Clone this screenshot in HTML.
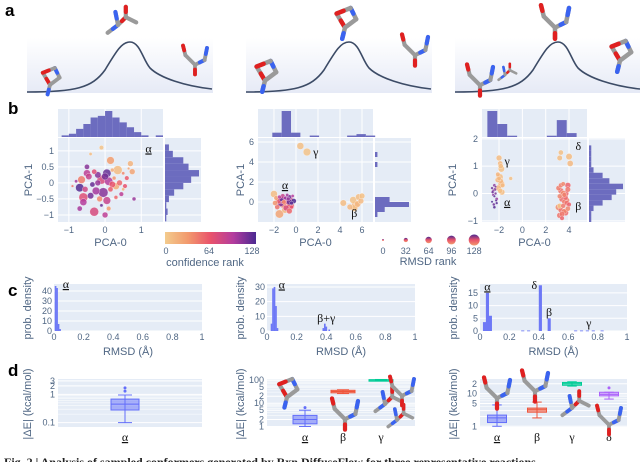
<!DOCTYPE html>
<html><head><meta charset="utf-8"><style>
html,body{margin:0;padding:0;background:#fff;}
svg{display:block;font-family:"Liberation Sans",sans-serif;}
.tk{font-size:9px;fill:#506784;}
.tt{font-size:11px;fill:#506784;}
.gk{font-family:"Liberation Serif",serif;font-size:12px;fill:#111;}
.pl{font-family:"Liberation Sans",sans-serif;font-weight:bold;font-size:17px;fill:#000;}
</style></head><body>
<svg id="fig" width="640" height="462" viewBox="0 0 640 462" xmlns="http://www.w3.org/2000/svg">
<defs>
<linearGradient id="bgA" x1="0" y1="0" x2="0" y2="1"><stop offset="0" stop-color="#ffffff"/><stop offset="1" stop-color="#e6eaf6"/></linearGradient>
<linearGradient id="cbar" x1="0" y1="0" x2="1" y2="0"><stop offset="0" stop-color="#f3cb8d"/><stop offset="0.25" stop-color="#f29a6d"/><stop offset="0.5" stop-color="#e9536b"/><stop offset="0.75" stop-color="#b33c9e"/><stop offset="1" stop-color="#4b2991"/></linearGradient>
<linearGradient id="leg" x1="0" y1="1" x2="0" y2="0"><stop offset="0" stop-color="#f29a6d"/><stop offset="0.5" stop-color="#e9536b"/><stop offset="1" stop-color="#4b2991"/></linearGradient>
</defs>
</svg>
<script>
// ---------- data ----------
const s1x=[-0.1,-0.4,0.15,0.7,-0.5,-0.3,-0.2,0.05,0.2,0.35,0.5,0.75,0.6,-0.8,-0.65,-0.45,-0.35,-0.1,0.0,0.1,0.25,0.4,0.55,-0.9,-0.7,-0.55,-0.25,-0.05,0.15,0.3,0.45,0.8,-0.6,-0.4,-0.15,0.05,0.3,-0.7,-0.6,-0.1,0.1,-0.3,0.5,-0.2,0.2,0.65,-0.5,0.0];
const s1y=[1.1,0.9,0.7,0.6,0.3,0.35,0.25,0.3,0.4,0.4,0.3,0.35,0.15,0.05,0.1,0.2,-0.05,0.1,0.2,0.05,0.15,0.0,-0.1,-0.1,-0.15,-0.2,-0.25,-0.3,-0.2,-0.1,-0.35,-0.5,-0.45,-0.4,-0.5,-0.55,-0.45,-0.8,-0.6,-0.7,-0.8,-0.9,-0.2,0.0,-0.05,0.45,0.5,-1.0];
const s1c=[5,10,30,15,90,70,110,120,20,10,40,25,60,100,45,85,120,75,115,95,35,55,65,50,125,80,100,110,60,20,90,105,70,115,40,85,55,100,95,120,30,75,15,105,65,25,110,90];
const s1s=[40,20,90,60,80,50,70,100,30,110,20,60,40,20,90,70,50,110,80,100,30,60,40,10,100,60,90,120,50,80,40,30,110,70,60,90,30,50,80,20,40,110,20,60,70,10,50,60];
const s2x=[-2.0,-1.8,-1.6,-1.5,-1.3,-1.2,-1.0,-0.9,-0.8,-0.6,-0.5,-0.4,-0.3,-1.7,-1.4,-1.1,-0.9,-0.7,-0.5,-0.2,-1.5,-1.2,-1.0,-0.8,-0.6,-0.4,-1.9,-1.3,-0.9,-0.6,0.4,1.0,4.3,4.9,5.2,5.4,5.7,5.9,5.3,5.6,6.0];
const s2y=[0.8,0.4,0.1,0.5,0.3,-0.2,0.4,0.1,-0.3,0.5,0.2,-0.1,0.6,-0.5,-0.1,0.0,-0.6,0.3,-0.4,0.1,-1.2,0.6,-0.8,0.7,0.0,-0.5,-0.1,0.2,0.4,-0.9,5.6,5.0,-0.1,-0.5,0.2,-0.3,0.5,0.1,-0.6,-0.2,0.6];
const s2c=[10,30,60,90,120,45,100,70,20,115,80,125,95,50,110,40,75,105,60,128,25,85,15,100,120,65,35,90,110,55,8,5,10,12,6,14,9,11,7,13,8];
const s2s=[80,40,60,30,50,90,20,70,100,40,60,30,20,50,80,40,60,30,90,50,100,40,70,20,60,30,50,80,40,60,80,90,70,60,80,90,70,60,80,70,60];
const s3x=[-2.6,-2.5,-2.4,-2.3,-2.2,-2.6,-2.45,-2.35,-2.25,-2.5,-2.4,-2.3,-2.55,-2.2,-2.4,-2.0,-1.9,-1.8,-2.1,-1.95,-1.85,-1.7,-2.05,-1.9,-1.8,-1.75,-2.0,-1.0,-1.85,-2.1,3.1,3.3,3.5,3.7,3.9,3.2,3.4,3.6,3.8,4.0,3.1,3.3,3.5,3.7,3.9,3.2,3.4,3.6,3.8,3.3,3.5,3.7,3.4,3.6,3.9,3.2,3.3,4.0,4.1,3.2];
const s3y=[0.2,0.1,-0.1,0.0,-0.2,-0.3,-0.4,0.15,-0.25,-0.05,-0.5,0.25,0.05,-0.35,0.3,1.3,1.1,0.9,0.7,0.6,0.45,0.3,0.2,0.1,0.35,0.05,0.55,0.55,1.0,0.5,0.2,0.1,0.35,0.0,0.15,-0.1,-0.2,-0.3,-0.25,-0.4,-0.5,-0.6,-0.45,-0.7,-0.55,-0.8,-0.9,-0.65,-0.35,0.3,0.0,-0.15,-0.75,-0.05,0.3,-0.45,1.5,1.35,1.1,1.3];
const s3c=[120,110,125,115,105,128,118,112,122,108,126,114,119,124,111,10,12,8,15,9,14,11,13,7,16,10,12,8,9,14,45,50,40,55,48,42,52,46,44,58,38,50,47,53,41,49,56,43,51,45,39,54,48,44,57,6,8,10,12,9];
const s3s=[10,15,8,12,20,6,14,18,9,11,16,7,13,10,17,60,50,70,40,80,55,45,65,50,75,60,40,30,50,55,50,60,40,70,55,45,65,50,60,40,70,55,45,65,50,60,40,55,50,45,60,50,55,45,60,50,50,70,65,55];
const h1top=[1,2,5,8,12,13,16,12,9,6,3,1,0,1];
const h1right=[1,2,1,3,7,14,20,26,18,14,6,3,0];
const h2top=[0,3,18,3,0,1,0,0,0,1,2,1];
const h2right=[0,1,4,14,6,0,0,0,0,0,0,1,0,1,0,0];
const h3top=[20,10,1,0,0,0,1,13,3,0];
const h3right=[1,1,2,6,10,12,15,9,6,2,1,1,1,1,0];
const c1edges=[0.005,0.015,0.025,0.035];
const c1widths=[0.01,0.01,0.01,0.01];
const c1vals=[45,43,7,2];
const c2edges=[0.025,0.035,0.045,0.055,0.065,0.375,0.385,0.395,0.415];
const c2widths=[0.01,0.01,0.01,0.01,0.01,0.01,0.01,0.01,0.01];
const c2vals=[5,29,30,17,2,2,5,3,1];
const c3edges=[0.02,0.04,0.06,0.28,0.32,0.40,0.46,0.64,0.68,0.72,0.76,0.82];
const c3widths=[0.02,0.02,0.02,0.02,0.02,0.02,0.02,0.02,0.02,0.02,0.02,0.02];
const c3vals=[3.5,15,6,0.2,0.2,18,5,0.2,0.2,0.2,0.2,0.2];
const d1cats=['α'];
const d1box=[[0.1,0.28,0.45,0.68,0.95]];
const d1out=[[1.3,1.7]];
const d2cats=['α','β','γ'];
const d2box=[[1.0,1.3,2.0,3.0,5.0],[26,28,32,36,38],[95,97,100,103,105]];
const d2out=[[6.5],[],[]];
const d3cats=['α','β','γ','δ'];
const d3box=[[1.0,1.3,1.8,2.2,4.5],[1.8,2.7,3.2,3.6,5.5],[17,18,20,22,23],[6.8,8.5,9.5,11,11]];
const d3out=[[4.8],[],[],[15]];

// ---------- helpers ----------
const NS='http://www.w3.org/2000/svg';
const svg=document.getElementById('fig');
function mk(tag,attrs,txt){const e=document.createElementNS(NS,tag);for(const k in attrs)e.setAttribute(k,attrs[k]);if(txt!==undefined)e.textContent=txt;svg.appendChild(e);return e;}
const stops=[[0,[243,203,141]],[0.25,[242,154,109]],[0.5,[233,83,107]],[0.75,[179,60,158]],[1,[75,41,145]]];
function cmap(v){const t=Math.max(0,Math.min(1,v/128));for(let i=1;i<stops.length;i++){if(t<=stops[i][0]){const a=stops[i-1],b=stops[i];const f=(t-a[0])/(b[0]-a[0]);const c=a[1].map((x,j)=>Math.round(x+(b[1][j]-x)*f));return 'rgb('+c.join(',')+')';}}return 'rgb(75,41,145)';}
function lin(d0,d1,r0,r1){return v=>r0+(v-d0)/(d1-d0)*(r1-r0);}
function bg(x0,y0,x1,y1,name){const r=mk('rect',{x:x0,y:y0,width:x1-x0,height:y1-y0,fill:'#e5ecf6'});return r;}
function gridV(sx,vals,y0,y1,name){vals.forEach(v=>{const g=mk('line',{x1:sx(v),x2:sx(v),y1:y0,y2:y1,stroke:'#fff','stroke-width':1});});}
function gridH(sy,vals,x0,x1,name,w){vals.forEach(v=>{const g=mk('line',{x1:x0,x2:x1,y1:sy(v),y2:sy(v),stroke:'#fff','stroke-width':w||1});});}
function tickX(sx,vals,labels,y,name){vals.forEach((v,i)=>{const t=mk('text',{x:sx(v),y:y,'text-anchor':'middle',class:'tk'},labels[i]);});}
function tickY(sy,vals,labels,x,name){vals.forEach((v,i)=>{const t=mk('text',{x:x,y:sy(v)+3,'text-anchor':'end',class:'tk'},labels[i]);});}
function title(x,y,txt,rot,name){const t=mk('text',{x:x,y:y,'text-anchor':'middle',class:'tt',transform:rot?'rotate(-90 '+x+' '+y+')':''},txt);return t;}
function greek(x,y,txt,u,name){const t=mk('text',{x:x,y:y,'text-anchor':'middle',class:'gk','text-decoration':u?'underline':'none'},txt);return t;}
function panelLabel(x,y,txt){const t=mk('text',{x:x,y:y,class:'pl'},txt);}
function mol(cx,cy,s,v,name){
  const g=document.createElementNS(NS,'g');g.setAttribute('transform','translate('+cx+' '+cy+') scale('+s+')');svg.appendChild(g);
  
  
  const shapes=[
   [[-8,6,0,0],[0,0,6,-6],[6,-6,14,-2],[0,0,-2,-10],[6,-6,6,-14]],
   [[-6,-6,0,4],[0,4,8,-2],[8,-2,4,-10],[4,-10,-6,-6],[0,4,-2,12]],
   [[-8,-4,0,4],[0,4,8,0],[0,4,0,12],[8,0,10,-10],[-8,-4,-10,-12]]
  ][v%3];
  const cols=['#3a63f0','#e02020','#f4f4f4','#3a63f0','#e02020'];
  shapes.forEach((b,i)=>{const a=document.createElementNS(NS,'line');a.setAttribute('x1',b[0]);a.setAttribute('y1',b[1]);a.setAttribute('x2',b[2]);a.setAttribute('y2',b[3]);a.setAttribute('stroke','#9a9a9a');a.setAttribute('stroke-width',3.2);a.setAttribute('stroke-linecap','round');g.appendChild(a);
   const h=document.createElementNS(NS,'line');const mx=(b[0]+b[2])/2,my=(b[1]+b[3])/2;h.setAttribute('x1',mx);h.setAttribute('y1',my);h.setAttribute('x2',b[2]);h.setAttribute('y2',b[3]);h.setAttribute('stroke',cols[(i+v)%5]);h.setAttribute('stroke-width',3.2);h.setAttribute('stroke-linecap','round');h.setAttribute('opacity',(i+v)%5===2?0.0:1);g.appendChild(h);});
}

// ---------- panel a ----------
panelLabel(5,16,'a');
[[27,0],[246,219],[455,428]].forEach((p,i)=>{
  const r=mk('rect',{x:p[0],y:38,width:186,height:55,fill:'url(#bgA)'});
  
  
  const o=p[1];
  const c=mk('path',{d:'M'+(27+o)+',92 C'+(75+o)+',92 '+(92+o)+',88 '+(105+o)+',70 C'+(117+o)+',50 '+(122+o)+',42 '+(130+o)+',42 C'+(140+o)+',42 '+(143+o)+',60 '+(150+o)+',68 C'+(160+o)+',78 '+(185+o)+',86 '+(212+o)+',89',fill:'none',stroke:'#3c4b66','stroke-width':1.6});
  
  
});
mol(50,80,1.2,1,'molecule-reactant-1');mol(118,25,1.3,0,'molecule-ts-1');mol(195,60,1.2,2,'molecule-product-1');
mol(265,75,1.4,1,'molecule-reactant-2');mol(345,22,1.4,1,'molecule-ts-2');mol(415,50,1.3,2,'molecule-product-2');
mol(480,80,1.3,2,'molecule-reactant-3');mol(505,75,0.8,0,'molecule-reactant-3b');mol(555,22,1.4,2,'molecule-ts-3');mol(620,55,1.4,1,'molecule-product-3');

// ---------- panel b ----------
panelLabel(8,114,'b');
function scatterPanel(cfg){
  const sx=lin(cfg.xd[0],cfg.xd[1],cfg.px[0],cfg.px[1]);
  const sy=lin(cfg.yd[0],cfg.yd[1],cfg.py[1],cfg.py[0]);
  bg(cfg.px[0],cfg.py[0],cfg.px[1],cfg.py[1],cfg.n+'-plot-area');
  gridV(sx,cfg.xt,cfg.py[0],cfg.py[1],cfg.n+'-xgrid');
  gridH(sy,cfg.yt,cfg.px[0],cfg.px[1],cfg.n+'-ygrid');
  tickX(sx,cfg.xt,cfg.xl,cfg.py[1]+11,cfg.n+'-x-tick');
  tickY(sy,cfg.yt,cfg.yl,cfg.px[0]-4,cfg.n+'-y-tick');
  bg(cfg.px[0],109,cfg.px[1],137,cfg.n+'-top-hist-area');
  gridV(sx,cfg.xt,109,137,cfg.n+'-top-hist-grid');
  const tm=Math.max(...cfg.ht);
  cfg.ht.forEach((h,i)=>{const x0=sx(cfg.htStart+i*cfg.htW),x1=sx(cfg.htStart+(i+1)*cfg.htW);const hh=h/tm*26;
    const b=mk('rect',{x:Math.min(x0,x1),y:137-hh,width:Math.abs(x1-x0),height:hh,fill:'#6c6cbf'});
    
    });
  const rx0=cfg.px[1]+2,rx1=cfg.px[1]+38;
  bg(rx0,cfg.py[0],rx1,cfg.py[1],cfg.n+'-right-hist-area');
  gridH(sy,cfg.yt,rx0,rx1,cfg.n+'-right-hist-grid');
  const rm=Math.max(...cfg.hr);
  cfg.hr.forEach((h,i)=>{const y0=sy(cfg.hrStart+i*cfg.hrW),y1=sy(cfg.hrStart+(i+1)*cfg.hrW);const ww=h/rm*34;
    const b=mk('rect',{x:rx0,y:Math.min(y0,y1),width:ww,height:Math.abs(y1-y0),fill:'#6c6cbf'});
    
    });
  const idx=cfg.x.map((_,i)=>i).sort((a,b)=>cfg.s[b]-cfg.s[a]);
  idx.forEach(i=>{const c=mk('circle',{cx:sx(cfg.x[i]),cy:sy(cfg.y[i]),r:1+cfg.s[i]/128*4,fill:cmap(cfg.c[i]),'fill-opacity':0.85,stroke:'#fff','stroke-width':0.3});
    
    });
  title((cfg.px[0]+cfg.px[1])/2,246,'PCA-0',false,cfg.n+'-x-title');
  title(cfg.ytx,180,'PCA-1',true,cfg.n+'-y-title');
  return [sx,sy];
}
let r1=scatterPanel({n:'scatter-1',px:[58,163],py:[138,222],xd:[-1.3,1.6],yd:[-1.22,1.4],xt:[-1,0,1],xl:['−1','0','1'],yt:[-1,-0.5,0,0.5,1],yl:['−1','−0.5','0','0.5','1'],x:s1x,y:s1y,c:s1c,s:s1s,ht:h1top,htStart:-1.2,htW:0.2,hr:h1right,hrStart:-1.2,hrW:0.2,ytx:32});
greek(r1[0](1.2),r1[1](0.95),'α',true,'label-alpha-b1');
let r2=scatterPanel({n:'scatter-2',px:[258,373],py:[138,222],xd:[-3.45,7.0],yd:[-2,6.4],xt:[-2,0,2,4,6],xl:['−2','0','2','4','6'],yt:[0,2,4,6],yl:['0','2','4','6'],x:s2x,y:s2y,c:s2c,s:s2s,ht:h2top,htStart:-3,htW:0.85,hr:h2right,hrStart:-2,hrW:0.5,ytx:244});
greek(r2[0](-1.0),r2[1](1.3),'α',true,'label-alpha-b2');greek(r2[0](1.8),r2[1](4.6),'γ',false,'label-gamma-b2');greek(r2[0](5.3),r2[1](-1.5),'β',false,'label-beta-b2');
let r3=scatterPanel({n:'scatter-3',px:[482,587],py:[138,222],xd:[-3.46,5.54],yd:[-1.04,2.03],xt:[-2,0,2,4],xl:['−2','0','2','4'],yt:[-1,0,1,2],yl:['−1','0','1','2'],x:s3x,y:s3y,c:s3c,s:s3s,ht:h3top,htStart:-3,htW:0.85,hr:h3right,hrStart:-1.04,hrW:0.2,ytx:456});
greek(r3[0](-1.3),r3[1](1.05),'γ',false,'label-gamma-b3');greek(r3[0](-1.3),r3[1](-0.45),'α',true,'label-alpha-b3');greek(r3[0](4.8),r3[1](1.6),'δ',false,'label-delta-b3');greek(r3[0](4.8),r3[1](-0.6),'β',false,'label-beta-b3');
(function(){const r=mk('rect',{x:165,y:232,width:91,height:12,fill:'url(#cbar)'});
const cbv=[0,64,128];cbv.forEach(v=>{const t=mk('text',{x:166+v/128*86,y:254,'text-anchor':'middle',class:'tk'},String(v));});
title(205,266,'confidence rank',false,'colorbar-title');
const lv=[0,32,64,96,128];lv.forEach((v,i)=>{const c=mk('circle',{cx:383+i*22.8,cy:240,r:1+v/128*4.5,fill:'url(#leg)'});
const t=mk('text',{x:383+i*22.8,y:254,'text-anchor':'middle',class:'tk'},String(v));});
title(428,265,'RMSD rank',false,'rmsd-legend-title');})();

// ---------- panel c ----------
panelLabel(8,296,'c');
function histPanel(n,x0,x1,ymax,yt,edges,widths,vals,tx){
  const sx=lin(0,1,x0,x1),sy=lin(0,ymax,331,284);
  bg(x0,284,x1,331,n+'-plot-area');
  gridH(sy,yt,x0,x1,n+'-ygrid');
  edges.forEach((e,i)=>{const b=mk('rect',{x:sx(e),y:sy(vals[i]),width:sx(e+widths[i])-sx(e)+0.2,height:Math.max(0.8,331-sy(vals[i])),fill:'#6d78f6'});});
  const xt=[0,0.2,0.4,0.6,0.8,1];
  tickX(sx,xt,['0','0.2','0.4','0.6','0.8','1'],340,n+'-x-tick');
  tickY(sy,yt,yt.map(String),x0-2,n+'-y-tick');
  title((x0+x1)/2,355,'RMSD (Å)',false,n+'-x-title');
  title(tx,308,'prob. density',true,n+'-y-title');
  return [sx,sy];
}
let c1=histPanel('rmsd-hist-1',54,202,47,[0,10,20,30,40],c1edges,c1widths,c1vals,31);
greek(c1[0](0.08),c1[1](43),'α',true,'label-alpha-c1');
let c2=histPanel('rmsd-hist-2',267,415,32,[0,10,20,30],c2edges,c2widths,c2vals,244);
greek(c2[0](0.1),c2[1](29),'α',true,'label-alpha-c2');greek(c2[0](0.4),c2[1](6),'β+γ',false,'label-betagamma-c2');
let c3=histPanel('rmsd-hist-3',480,627,18.5,[0,5,10,15],c3edges,c3widths,c3vals,457);
greek(c3[0](0.05),c3[1](16),'α',true,'label-alpha-c3');greek(c3[0](0.37),c3[1](16.5),'δ',false,'label-delta-c3');greek(c3[0](0.47),c3[1](6),'β',false,'label-beta-c3');greek(c3[0](0.74),c3[1](1.5),'γ',false,'label-gamma-c3');

// ---------- panel d ----------
panelLabel(8,376,'d');
const bcol=['#636efa','#ef553b','#00cc96','#ab63fa'];
function boxPanel(n,x0,x1,ymin,ymax,yt,yl,minor,cats,cx,bw,boxes,outs,tx){
  const L=v=>Math.log10(v);
  const sy=v=>427-(L(v)-L(ymin))/(L(ymax)-L(ymin))*48;
  bg(x0,379,x1,427,n+'-plot-area');
  gridH(sy,minor,x0,x1,n+'-minor-grid',0.5);
  gridH(sy,yt,x0,x1,n+'-ygrid',1);
  tickY(sy,yt,yl,x0-3,n+'-y-tick');
  cats.forEach((c,i)=>{const b=boxes[i],x=cx[i],col=bcol[i];
    const w=mk('line',{x1:x,x2:x,y1:sy(b[0]),y2:sy(b[4]),stroke:col,'stroke-width':1});
    [b[0],b[4]].forEach(v=>{const cap=mk('line',{x1:x-bw/4,x2:x+bw/4,y1:sy(v),y2:sy(v),stroke:col,'stroke-width':1});});
    const r=mk('rect',{x:x-bw/2,y:sy(b[3]),width:bw,height:Math.max(1.5,sy(b[1])-sy(b[3])),fill:col,'fill-opacity':0.5,stroke:col,'stroke-width':1});
    const m=mk('line',{x1:x-bw/2,x2:x+bw/2,y1:sy(b[2]),y2:sy(b[2]),stroke:col,'stroke-width':1});
    outs[i].forEach(v=>{const o=mk('circle',{cx:x,cy:sy(v),r:1.5,fill:col});});
    greek(x,441,c,c==='α','label-'+n+'-'+c);
  });
  title(tx,404,'|ΔE| (kcal/mol)',true,n+'-y-title');
  return sy;
}
boxPanel('energy-box-1',58,202,0.07,3.5,[0.1,1,2,3],['0.1','1','2','3'],[0.2,0.3,0.4,0.5,0.6,0.7,0.8,0.9,2,3],d1cats,[125],28,d1box,d1out,31);
boxPanel('energy-box-2',267,415,0.95,110,[1,2,5,10,20,50,100],['1','2','5','10','2','5','100'],[3,4,6,7,8,9,30,40,60,70,80,90],d2cats,[305,343,381],24,d2box,d2out,244);
boxPanel('energy-box-3',480,627,0.95,28,[1,2,3,5,10,20],['1','','','5','10','2'],[4,6,7,8,9],d3cats,[497,537,572,609],19,d3box,d3out,457);
mol(385,404,1.2,0,'molecule-d1');
mol(287,392,1.3,1,'molecule-d2-alpha');mol(345,414,1.3,2,'molecule-d2-beta');mol(397,420,1.1,0,'molecule-d2-gamma-a');mol(402,391,1.2,2,'molecule-d2-gamma-b');
mol(497,393,1.3,2,'molecule-d3-alpha');mol(535,386,1.3,2,'molecule-d3-beta');mol(572,408,1.2,0,'molecule-d3-gamma');mol(609,420,1.2,2,'molecule-d3-delta');
(function(){const t=mk('text',{x:4,y:466,'font-family':'Liberation Serif, serif','font-size':'12px','font-weight':'bold',fill:'#222'},'Fig. 2 | Analysis of sampled conformers generated by Rxn DiffuseFlow for three representative reactions.');})();
</script>
</body></html>
